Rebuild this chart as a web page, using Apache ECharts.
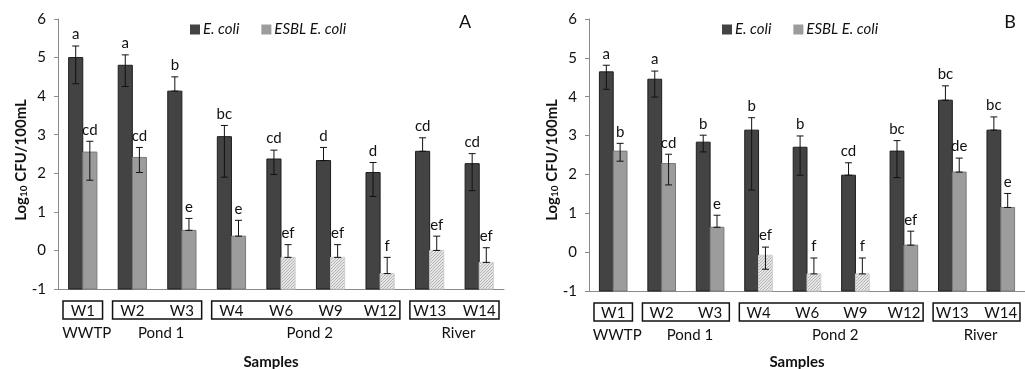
<!DOCTYPE html>
<html>
<head>
<meta charset="utf-8">
<script src="https://cdn.jsdelivr.net/npm/echarts@6/dist/echarts.min.js"></script>
<style>
  html, body { margin: 0; padding: 0; background: #fff; }
  #chart { width: 1025px; height: 369px; }
</style>
</head>
<body>
<div id="chart"></div>
<script>
// samples and groups (group name, first index, last index)
const samples = ['W1', 'W2', 'W3', 'W4', 'W6', 'W9', 'W12', 'W13', 'W14'];
const groups = [['WWTP', 0, 0], ['Pond 1', 1, 2], ['Pond 2', 3, 6], ['River', 7, 8]];
const yMin = -1, yMax = 6, yStep = 1;

// panel A
const ecoliA    = [5.0, 4.8, 4.13, 2.95, 2.37, 2.33, 2.02, 2.57, 2.25];
const ecoliAHi  = [5.3, 5.07, 4.5, 3.24, 2.6, 2.67, 2.28, 2.92, 2.51];
const ecoliALo  = [4.32, 4.25, 4.13, 1.9, 1.97, 2.33, 1.4, 2.57, 1.55];
const esblA     = [2.55, 2.41, 0.52, 0.37, -0.18, -0.18, -0.6, 0.0, -0.31];
const esblAHi   = [2.83, 2.67, 0.83, 0.78, 0.15, 0.15, -0.18, 0.37, 0.07];
const esblALo   = [1.82, 2.02, 0.52, 0.37, -0.18, -0.18, -0.6, 0.0, -0.31];
const ecoliALet = ['a', 'a', 'b', 'bc', 'cd', 'd', 'd', 'cd', 'cd'];
const esblALet  = ['cd', 'cd', 'e', 'e', 'ef', 'ef', 'f', 'ef', 'ef'];
const esblAHatch = [0, 0, 0, 0, 1, 1, 1, 1, 1];

// panel B
const ecoliB    = [4.64, 4.45, 2.83, 3.14, 2.7, 1.98, 2.6, 3.91, 3.14];
const ecoliBHi  = [4.81, 4.66, 3.01, 3.46, 2.99, 2.3, 2.87, 4.28, 3.48];
const ecoliBLo  = [4.19, 3.99, 2.58, 1.6, 1.98, 1.98, 1.92, 3.91, 3.14];
const esblB     = [2.6, 2.28, 0.64, -0.08, -0.56, -0.56, 0.18, 2.06, 1.15];
const esblBHi   = [2.8, 2.52, 0.95, 0.13, -0.15, -0.15, 0.54, 2.42, 1.51];
const esblBLo   = [2.34, 1.73, 0.64, -0.44, -0.56, -0.56, 0.18, 2.06, 1.15];
const ecoliBLet = ['a', 'a', 'b', 'b', 'b', 'cd', 'bc', 'bc', 'bc'];
const esblBLet  = ['b', 'cd', 'e', 'ef', 'f', 'f', 'ef', 'de', 'e'];
const esblBHatch = [0, 0, 0, 1, 1, 1, 0, 0, 0];

const FONT = 'Lato, "DejaVu Sans", sans-serif';
const DARK = '#434343';
const LIGHT = '#9c9c9c';

// hatch pattern for the low ESBL bars
const hc = document.createElement('canvas');
hc.width = 3; hc.height = 3;
const hg = hc.getContext('2d');
hg.fillStyle = '#e6e6e6';
hg.fillRect(0, 0, 3, 3);
hg.fillStyle = '#b4b4b4';
hg.fillRect(0, 2, 1, 1); hg.fillRect(1, 1, 1, 1); hg.fillRect(2, 0, 1, 1);
const hatch = { image: hc, repeat: 'repeat' };

function rows(v, hi, lo) {
  return v.map((d, i) => [i, d, hi[i], lo[i]]);
}

function barRender(side, letters, fill, stroke, hatchFlags) {
  return function (params, api) {
    const i = api.value(0);
    const base = api.coord([i, yMin]);
    const top = api.coord([i, api.value(1)]);
    const yHi = api.coord([i, api.value(2)])[1];
    const yLo = api.coord([i, api.value(3)])[1];
    const band = api.size([1, 0])[0];
    const w = band * 0.285;
    const x0 = side < 0 ? base[0] - w : base[0];
    const cx = x0 + w / 2;
    const useHatch = hatchFlags && hatchFlags[params.dataIndex];
    return {
      type: 'group',
      children: [
        { type: 'rect', shape: { x: x0, y: top[1], width: w, height: base[1] - top[1] },
          style: { fill: useHatch ? hatch : fill, stroke: useHatch ? '#cfcfcf' : stroke, lineWidth: 1 } },
        { type: 'line', shape: { x1: cx, y1: yHi, x2: cx, y2: yLo }, style: { stroke: '#111', lineWidth: 1 } },
        { type: 'line', shape: { x1: cx - 3.5, y1: yHi, x2: cx + 3.5, y2: yHi }, style: { stroke: '#111', lineWidth: 1 } },
        { type: 'line', shape: { x1: cx - 3.5, y1: yLo, x2: cx + 3.5, y2: yLo }, style: { stroke: '#111', lineWidth: 1 } },
        { type: 'text', style: { x: cx, y: yHi - 4, text: letters[params.dataIndex], align: 'center',
          verticalAlign: 'bottom', font: '15px ' + FONT, fill: '#111' } }
      ]
    };
  };
}

function groupRender(params, api) {
  const g = groups[params.dataIndex];
  const band = api.size([1, 0])[0];
  const a = api.coord([g[1], yMin]);
  const b = api.coord([g[2], yMin]);
  const left = a[0] - band / 2 + 5;
  const right = b[0] + band / 2 - 5;
  return {
    type: 'group',
    children: [
      { type: 'rect', shape: { x: left, y: a[1] + 12, width: right - left, height: 18 },
        style: { fill: 'none', stroke: '#111', lineWidth: 1.5 } },
      { type: 'text', style: { x: (a[0] + b[0]) / 2 + 4, y: a[1] + 44, text: g[0], align: 'center',
        verticalAlign: 'middle', font: '15px ' + FONT, fill: '#111' } }
    ]
  };
}

const groupData = groups.map((g, i) => [g[1], yMin]);

function axesFor(idx) {
  return {
    x: {
      type: 'category', gridIndex: idx, data: samples,
      axisLine: { onZero: false, lineStyle: { color: '#8a8a8a' } },
      axisTick: { length: 4, lineStyle: { color: '#8a8a8a' } },
      axisLabel: { fontFamily: FONT, fontSize: 15, color: '#111', margin: 15 }
    },
    y: {
      type: 'value', gridIndex: idx, min: yMin, max: yMax, interval: yStep,
      splitLine: { show: false },
      axisLine: { show: true, lineStyle: { color: '#8a8a8a' } },
      axisTick: { show: true, length: 4, lineStyle: { color: '#8a8a8a' } },
      axisLabel: { fontFamily: FONT, fontSize: 15, color: '#111', margin: 12 }
    }
  };
}
const axA = axesFor(0), axB = axesFor(1);

function panelSeries(idx, e, eHi, eLo, eLet, s, sHi, sLo, sLet, sHatch) {
  return [
    { name: 'E. coli', type: 'custom', xAxisIndex: idx, yAxisIndex: idx,
      itemStyle: { color: DARK }, encode: { x: 0, y: 1 },
      renderItem: barRender(-1, eLet, DARK, '#1e1e1e', null), data: rows(e, eHi, eLo) },
    { name: 'ESBL E. coli', type: 'custom', xAxisIndex: idx, yAxisIndex: idx,
      itemStyle: { color: LIGHT }, encode: { x: 0, y: 1 },
      renderItem: barRender(1, sLet, LIGHT, '#7a7a7a', sHatch), data: rows(s, sHi, sLo) },
    { type: 'custom', xAxisIndex: idx, yAxisIndex: idx, silent: true,
      encode: { x: 0, y: 1 }, renderItem: groupRender, data: groupData }
  ];
}

const legendStyle = {
  icon: 'rect', itemWidth: 10, itemHeight: 10, itemGap: 22, top: 17,
  textStyle: { fontFamily: FONT, fontSize: 15, fontStyle: 'italic', color: '#111', padding: [0, 0, 0, -2] },
  data: ['E. coli', 'ESBL E. coli']
};

function yTitle(x) {
  return {
    type: 'text', x: x, y: 160, rotation: Math.PI / 2,
    style: {
      text: '{b|Log}{s|10}{b| CFU/100mL}', align: 'center', verticalAlign: 'middle',
      rich: {
        b: { fontFamily: FONT, fontSize: 15, fontWeight: 'bold', fill: '#111', lineHeight: 18, verticalAlign: 'bottom' },
        s: { fontFamily: FONT, fontSize: 10, fontWeight: 'bold', fill: '#111', lineHeight: 18, verticalAlign: 'bottom', padding: [6, 0, 0, 0] }
      }
    }
  };
}

const chart = echarts.init(document.getElementById('chart'));
chart.setOption({
  animation: false,
  grid: [
    { left: 58, top: 19, width: 446, height: 270 },
    { left: 589, top: 19, width: 440, height: 272 }
  ],
  xAxis: [axA.x, axB.x],
  yAxis: [axA.y, axB.y],
  legend: [
    Object.assign({ left: 185 }, legendStyle),
    Object.assign({ left: 717 }, legendStyle)
  ],
  graphic: [
    yTitle(20), yTitle(551),
    { type: 'text', x: 465, y: 22, style: { text: 'A', font: '18px ' + FONT, fill: '#111', align: 'center', verticalAlign: 'middle' } },
    { type: 'text', x: 1010, y: 22, style: { text: 'B', font: '18px ' + FONT, fill: '#111', align: 'center', verticalAlign: 'middle' } },
    { type: 'text', x: 271, y: 362, style: { text: 'Samples', font: 'bold 15px ' + FONT, fill: '#111', align: 'center', verticalAlign: 'middle' } },
    { type: 'text', x: 797, y: 362, style: { text: 'Samples', font: 'bold 15px ' + FONT, fill: '#111', align: 'center', verticalAlign: 'middle' } }
  ],
  series: [].concat(
    panelSeries(0, ecoliA, ecoliAHi, ecoliALo, ecoliALet, esblA, esblAHi, esblALo, esblALet, esblAHatch),
    panelSeries(1, ecoliB, ecoliBHi, ecoliBLo, ecoliBLet, esblB, esblBHi, esblBLo, esblBLet, esblBHatch)
  )
});
window.addEventListener('resize', function () { chart.resize(); });
</script>
</body>
</html>
